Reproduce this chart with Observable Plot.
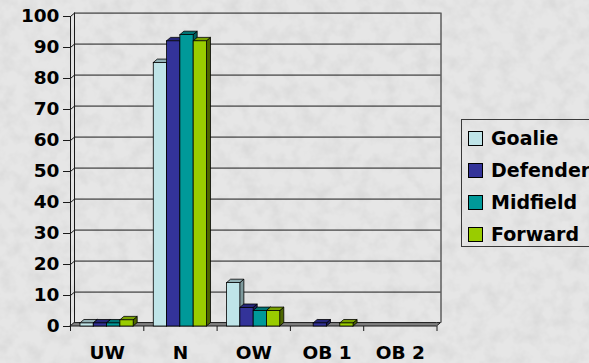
<!DOCTYPE html>
<html>
<head>
<meta charset="utf-8">
<script src="https://cdn.jsdelivr.net/npm/d3@7"></script>
<script src="https://cdn.jsdelivr.net/npm/@observablehq/plot@0.6"></script>
<style>
  html, body { margin: 0; padding: 0; }
  body {
    width: 589px; height: 363px; overflow: hidden;
    background-color: #e6e6e6;
    background-image: url("data:image/svg+xml;utf8,<svg xmlns='http://www.w3.org/2000/svg' width='589' height='363'><filter id='n'><feTurbulence type='fractalNoise' baseFrequency='0.07' numOctaves='3' seed='7'/><feColorMatrix values='0 0 0 0 0.6  0 0 0 0 0.6  0 0 0 0 0.6  0.9 0 0 0 -0.35'/></filter><rect width='100%' height='100%' filter='url(%23n)'/></svg>");
  }
  #chart { position: relative; width: 589px; height: 363px; }
  #chart svg { position: absolute; left: 0; top: 0; }
  .legend {
    position: absolute; left: 461px; top: 119px; width: 150px; height: 126px;
    border: 1px solid #3a3a3a;
    font-family: "DejaVu Sans", sans-serif; font-weight: bold; font-size: 19px; color: #000;
  }
  .legend .row { position: absolute; left: 6px; height: 32px; display: flex; align-items: center; white-space: nowrap; }
  .legend .sw { width: 13px; height: 13px; border: 1px solid #000; margin-right: 8px; box-sizing: content-box; }
</style>
</head>
<body>
<div id="chart"></div>
<script>
// Positions by category, one value list per playing position
const categories = ["UW", "N", "OW", "OB 1", "OB 2"];
const series = ["Goalie", "Defender", "Midfield", "Forward"];
const goalie   = [1, 85, 14, 0, 0];
const defender = [1, 92, 6, 1, 0];
const midfield = [1, 94, 5, 0, 0];
const forward  = [2, 92, 5, 1, 0];
const yTicks = [0, 10, 20, 30, 40, 50, 60, 70, 80, 90, 100];

// Face colours of each column: front, top, side
const frontColor = ["#bfe4e8", "#333399", "#009999", "#99cc00"];
const topColor   = ["#93b1b5", "#26267a", "#007575", "#7aa300"];
const sideColor  = ["#7d999c", "#1d1d5e", "#005f5f", "#4d6600"];

// 3-D extrusion and column layout, in scale units
const DX = 4 / 73.3;     // depth offset along x (one category = 1 unit)
const DY = 1.1;          // depth offset along y (value units)
const GAP = 0.136;       // space before the first column of a cluster
const BW = 0.1815;       // column width

const values = [goalie, defender, midfield, forward];
const bars = [];
series.forEach((s, j) => values[j].forEach((v, i) => {
  if (v > 0) bars.push({series: s, j, cat: categories[i], v,
    x1: i + GAP + j * BW, x2: i + GAP + (j + 1) * BW});
}));
const tops = bars.flatMap(b => [
  {...b, yy: b.v, xa: b.x1, xb: b.x2},
  {...b, yy: b.v + DY, xa: b.x1 + DX, xb: b.x2 + DX}
]);
const sides = bars.flatMap(b => [
  {...b, xx: b.x2, ya: 0, yb: b.v},
  {...b, xx: b.x2 + DX, ya: DY, yb: b.v + DY}
]);
const floor = [
  {x: 0, y1: 0, y2: 0},
  {x: DX, y1: 0, y2: DY},
  {x: 5, y1: 0, y2: DY},
  {x: 5 + DX, y1: DY, y2: DY}
];
const key = d => d.series + "|" + d.cat;
const font = {fontSize: 18.5, fontWeight: "bold"};

const chart = Plot.plot({
  width: 589,
  height: 363,
  marginLeft: 70,
  marginRight: 152.5,
  marginTop: 16,
  marginBottom: 37,
  style: {background: "transparent", fontFamily: "DejaVu Sans", color: "#000", overflow: "visible"},
  x: {type: "linear", domain: [0, 5], label: null},
  y: {type: "linear", domain: [0, 100], label: null},
  marks: [
    // back wall: gridlines and its two vertical edges
    Plot.ruleY(yTicks.slice(1), {y: d => d + DY, x1: DX, x2: 5 + DX, stroke: "#1a1a1a", strokeWidth: 1}),
    Plot.ruleX([DX, 5 + DX], {x: d => d, y1: DY, y2: 100 + DY, stroke: "#1a1a1a", strokeWidth: 1}),
    // side wall: short slanted gridlines from the front axis
    Plot.link(yTicks.slice(1), {x1: 0, x2: DX, y1: d => d, y2: d => d + DY, stroke: "#1a1a1a", strokeWidth: 1}),
    Plot.ruleX([0], {y1: 0, y2: 100, stroke: "#1a1a1a", strokeWidth: 1}),
    // floor
    Plot.areaY(floor, {x: "x", y1: "y1", y2: "y2", fill: "#808080", stroke: "#1a1a1a", strokeWidth: 1}),
    // columns: side faces, top faces, then fronts
    Plot.areaY(sides, {x: "xx", y1: "ya", y2: "yb", z: key, fill: d => sideColor[d.j], stroke: "#000", strokeWidth: 0.8}),
    Plot.areaX(tops, {y: "yy", x1: "xa", x2: "xb", z: key, fill: d => topColor[d.j], stroke: "#000", strokeWidth: 0.8}),
    Plot.rect(bars, {x1: "x1", x2: "x2", y1: 0, y2: "v", fill: d => frontColor[d.j], stroke: "#000", strokeWidth: 0.8}),
    // axes
    Plot.axisY(yTicks, {tickSize: 7, tickPadding: 4, tickFormat: d => String(d), stroke: "#1a1a1a", ...font}),
    Plot.axisX(d3.range(6), {tickSize: 5, tickFormat: () => "", stroke: "#1a1a1a"}),
    Plot.axisX(categories.map((c, i) => i + 0.5), {tickSize: 0, tickPadding: 19, tickFormat: d => categories[Math.floor(d)], ...font})
  ]
});
document.getElementById("chart").appendChild(chart);

// legend box
const legend = document.createElement("div");
legend.className = "legend";
series.forEach((s, j) => {
  const row = document.createElement("div");
  row.className = "row";
  row.style.top = (2 + 32 * j) + "px";
  const sw = document.createElement("span");
  sw.className = "sw";
  sw.style.background = frontColor[j];
  const label = document.createElement("span");
  label.textContent = s;
  row.appendChild(sw);
  row.appendChild(label);
  legend.appendChild(row);
});
document.getElementById("chart").appendChild(legend);
</script>
</body>
</html>
